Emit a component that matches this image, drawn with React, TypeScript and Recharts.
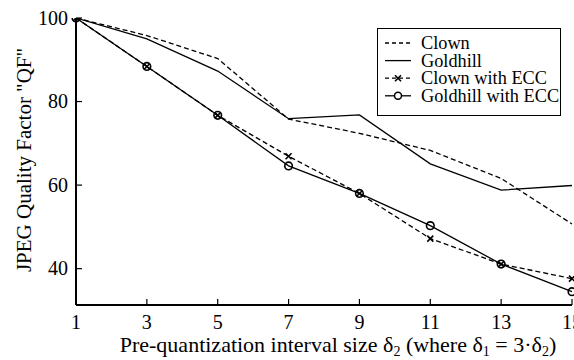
import React from "react";
import { LineChart, Line, XAxis, YAxis } from "recharts";

const xValues = [1, 3, 5, 7, 9, 11, 13, 15];
const clown = [100, 95.8, 90.3, 75.8, 72.4, 68.3, 61.6, 50.7];
const goldhill = [100, 95.0, 87.3, 75.9, 76.8, 65.1, 58.8, 59.9];
const clownEcc = [100, 88.4, 76.7, 66.9, 58.0, 47.2, 41.1, 37.6];
const goldhillEcc = [100, 88.4, 76.7, 64.6, 58.0, 50.3, 41.1, 34.5];
const xTicks = [1, 3, 5, 7, 9, 11, 13, 15];
const yTicks = [40, 60, 80, 100];
const seriesNames = ["Clown", "Goldhill", "Clown with ECC", "Goldhill with ECC"];

const data = xValues.map((x, i) => ({
  x,
  clown: clown[i],
  goldhill: goldhill[i],
  clownEcc: clownEcc[i],
  goldhillEcc: goldhillEcc[i],
}));

const FONT = "Liberation Serif";
const fontStyle = { fontFamily: FONT };
const TICK_FS = 20;
const TICK_LEN = 6;

const BottomTick = (props: any) => {
  const { x, y, payload } = props;
  return (
    <g>
      <line x1={x} x2={x} y1={y - 8} y2={y - 8 - TICK_LEN} stroke="#000" strokeWidth={1.2} />
      <text x={x} y={y + 15.5} textAnchor="middle" style={fontStyle} fontSize={TICK_FS} fill="#000">
        {payload.value}
      </text>
    </g>
  );
};
const TopTick = (props: any) => {
  const { x, y } = props;
  return <line x1={x} x2={x} y1={y + 8} y2={y + 8 + TICK_LEN} stroke="#000" strokeWidth={1.2} />;
};
const LeftTick = (props: any) => {
  const { x, y, payload } = props;
  return (
    <g>
      <line x1={x + 2} x2={x + 2 + TICK_LEN} y1={y} y2={y} stroke="#000" strokeWidth={1.2} />
      <text x={x - 6} y={y + 6.6} textAnchor="end" style={fontStyle} fontSize={TICK_FS} fill="#000">
        {payload.value}
      </text>
    </g>
  );
};
const RightTick = (props: any) => {
  const { x, y } = props;
  return <line x1={x - 2} x2={x - 2 - TICK_LEN} y1={y} y2={y} stroke="#000" strokeWidth={1.2} />;
};

const CrossDot = (props: any) => {
  const { cx, cy } = props;
  if (cx == null || cy == null) return null;
  const s = 3;
  return (
    <g>
      <line x1={cx - s} y1={cy - s} x2={cx + s} y2={cy + s} stroke="#000" strokeWidth={1.6} />
      <line x1={cx - s} y1={cy + s} x2={cx + s} y2={cy - s} stroke="#000" strokeWidth={1.6} />
    </g>
  );
};
const CircleDot = (props: any) => {
  const { cx, cy } = props;
  if (cx == null || cy == null) return null;
  return <circle cx={cx} cy={cy} r={3.8} fill="none" stroke="#000" strokeWidth={1.6} />;
};

const legendDash = ["4 3", "", "4 3", ""];
const legendMarker = ["none", "none", "x", "o"];

const LegendBox = () => (
  <svg
    width={184}
    height={88}
    style={{ position: "absolute", left: 377, top: 28, display: "block" }}
  >
    <rect x={0.5} y={0.5} width={183} height={87} fill="#fff" stroke="#000" strokeWidth={1} />
    {seriesNames.map((name, i) => {
      const cy = 15 + i * 17.6;
      return (
        <g key={name}>
          <line x1={8} x2={34} y1={cy} y2={cy} stroke="#000" strokeWidth={1.3} strokeDasharray={legendDash[i] || undefined} />
          {legendMarker[i] === "x" && <CrossDot cx={21} cy={cy} />}
          {legendMarker[i] === "o" && <circle cx={21} cy={cy} r={3.5} fill="#fff" stroke="#000" strokeWidth={1.5} />}
          <text x={44} y={cy + 6} style={fontStyle} fontSize={18.3} fill="#000">
            {name}
          </text>
        </g>
      );
    })}
  </svg>
);

const XLabel = (props: any) => {
  const vb = props.viewBox || {};
  const cx = vb.x + vb.width / 2 + 14;
  return (
    <text x={cx} y={352} textAnchor="middle" style={fontStyle} fontSize={22} fill="#000">
      Pre-quantization interval size δ
      <tspan fontSize={14} dy={4}>2</tspan>
      <tspan dy={-4}> (where δ</tspan>
      <tspan fontSize={14} dy={4}>1</tspan>
      <tspan dy={-4}> = 3·δ</tspan>
      <tspan fontSize={14} dy={4}>2</tspan>
      <tspan dy={-4}>)</tspan>
    </text>
  );
};

const YLabel = () => (
  <text
    x={0}
    y={0}
    transform="translate(31,160) rotate(-90)"
    textAnchor="middle"
    style={fontStyle}
    fontSize={21}
    fill="#000"
  >
    JPEG Quality Factor "QF"
  </text>
);

export default function App() {
  return (
    <div style={{ position: "absolute", left: 0, top: 0, width: 574, height: 360, background: "#fff" }}>
      <LineChart
        width={574}
        height={360}
        data={data}
        margin={{ top: 18, right: 2, bottom: 0, left: 16 }}
      >
        <XAxis
          xAxisId="b"
          dataKey="x"
          type="number"
          domain={[1, 15]}
          ticks={xTicks}
          interval={0}
          height={55}
          tickSize={0}
          tickMargin={8}
          tick={<BottomTick />}
          axisLine={{ stroke: "#000", strokeWidth: 2 }}
          label={<XLabel />}
        />
        <XAxis
          xAxisId="t"
          dataKey="x"
          type="number"
          orientation="top"
          domain={[1, 15]}
          ticks={xTicks}
          interval={0}
          height={0}
          tickSize={0}
          tickMargin={8}
          tick={<TopTick />}
          axisLine={{ stroke: "#000", strokeWidth: 2 }}
        />
        <YAxis
          yAxisId="l"
          type="number"
          domain={[31.3, 100]}
          ticks={yTicks}
          interval={0}
          width={60}
          tickSize={0}
          tickMargin={2}
          tick={<LeftTick />}
          axisLine={{ stroke: "#000", strokeWidth: 2 }}
          allowDataOverflow
          label={<YLabel />}
        />
        <YAxis
          yAxisId="r"
          orientation="right"
          type="number"
          domain={[31.3, 100]}
          ticks={yTicks}
          interval={0}
          width={0}
          tickSize={0}
          tickMargin={2}
          tick={<RightTick />}
          axisLine={{ stroke: "#000", strokeWidth: 2 }}
          allowDataOverflow
        />
        <Line xAxisId="b" yAxisId="l" dataKey="clown" name={seriesNames[0]} stroke="#000" strokeWidth={1.3} strokeDasharray="5 3" dot={false} isAnimationActive={false} />
        <Line xAxisId="b" yAxisId="l" dataKey="goldhill" name={seriesNames[1]} stroke="#000" strokeWidth={1.3} dot={false} isAnimationActive={false} />
        <Line xAxisId="b" yAxisId="l" dataKey="clownEcc" name={seriesNames[2]} stroke="#000" strokeWidth={1.3} strokeDasharray="5 3" dot={<CrossDot />} isAnimationActive={false} />
        <Line xAxisId="b" yAxisId="l" dataKey="goldhillEcc" name={seriesNames[3]} stroke="#000" strokeWidth={1.3} dot={<CircleDot />} isAnimationActive={false} />
      </LineChart>
      <LegendBox />
    </div>
  );
}
